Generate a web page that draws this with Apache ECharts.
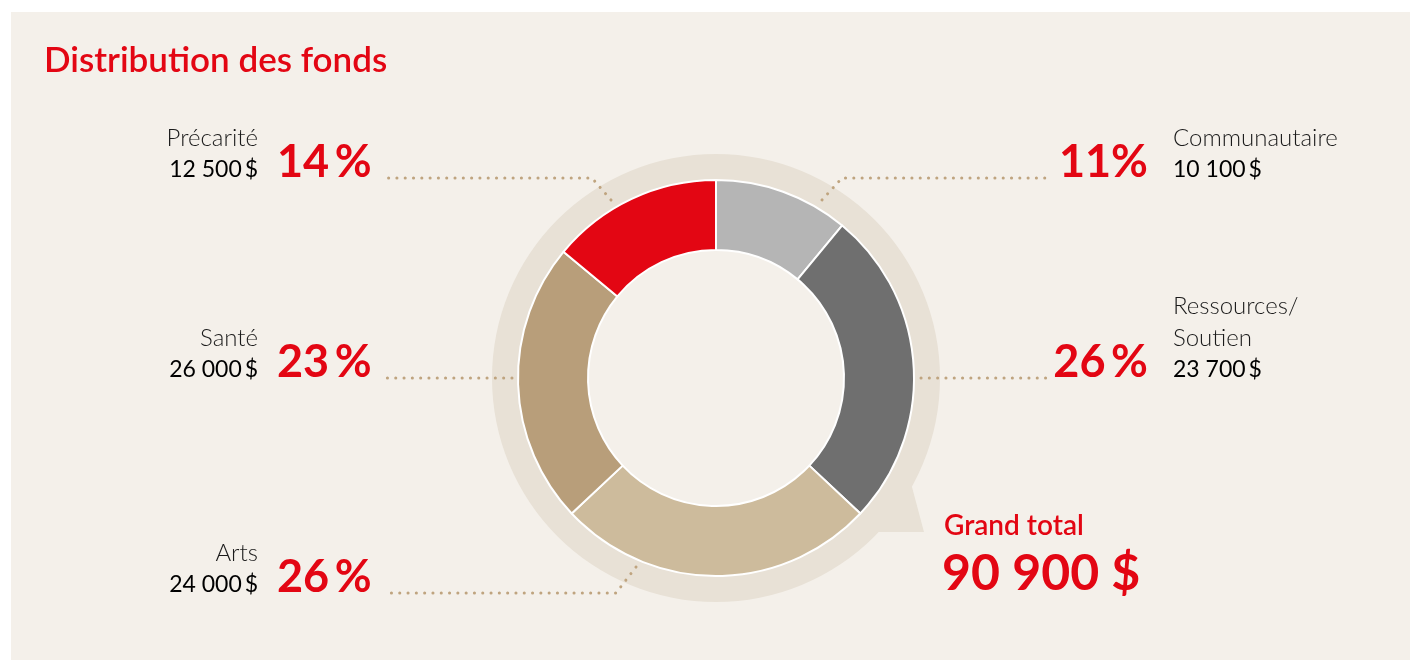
<!DOCTYPE html>
<html><head><meta charset="utf-8">
<script src="https://cdn.jsdelivr.net/npm/echarts@6/dist/echarts.min.js"></script>
<style>html,body{margin:0;padding:0;background:#fff}#c{width:1410px;height:660px}</style>
</head><body><div id="c"></div>
<script>
// ---- data ----
const chartTitle = 'Distribution des fonds';
const categories = ['Communautaire', 'Ressources/\nSoutien', 'Arts', 'Santé', 'Précarité'];
const percents = [11, 26, 26, 23, 14];
const amounts = ['10 100 $', '23 700 $', '24 000 $', '26 000 $', '12 500 $'];
const totalLabel = 'Grand total';
const totalValue = '90 900 $';

// ---- styles / layout ----
const COLORS = ['#b5b5b5', '#6f6f6f', '#cdbb9c', '#b89e7a', '#e30613'];
const RED = '#e30613';
const FONT = 'Lato, "Noto Sans", sans-serif';
const CX = 716, CY = 378;
const LAYOUT = [
  { side: 'R', py: 162, ty: 186, line: [[822, 200], [842, 178], [1046, 178]] },
  { side: 'R', py: 362, ty: 386, line: [[921, 378], [983, 378], [1046, 378]] },
  { side: 'L', py: 577, ty: 601, line: [[636, 567], [616, 593], [384, 593]] },
  { side: 'L', py: 362, ty: 386, line: [[512, 378], [450, 378], [386, 378]] },
  { side: 'L', py: 162, ty: 186, line: [[611, 200], [592, 178], [386, 178]] }
];
const PX = { L: 277, R: 1148 };
const TX = { L: 258, R: 1173 };
const pctText = v => v + (v === 11 ? '' : '\u2009') + '%';
const narrow = s => s.replace(/ \$/, '\u2009$');

const pieData = categories.map((c, i) => ({ name: c, value: percents[i], itemStyle: { color: COLORS[i] } }));

const chart = echarts.init(document.getElementById('c'), null, { renderer: 'canvas' });
chart.setOption({
  animation: false,
  title: {
    text: chartTitle, left: 39, top: 38, padding: 5,
    textStyle: { color: RED, fontSize: 35, fontWeight: 600, fontFamily: FONT }
  },
  graphic: [
    { type: 'rect', z: -10, shape: { x: 11, y: 12, width: 1399, height: 648 }, style: { fill: '#f4f0ea' } },
    { type: 'ring', z: -9, shape: { cx: CX, cy: CY, r: 224, r0: 190 }, style: { fill: '#e8e1d6' } },
    { type: 'polygon', z: -9, shape: { points: [[870, 440], [912, 487], [924, 532], [878, 532], [850, 500]] }, style: { fill: '#e8e1d6' } },
    { type: 'text', z: 10, style: { text: totalLabel, x: 944, y: 526, verticalAlign: 'middle', fill: RED, font: '600 28px ' + FONT } },
    { type: 'text', z: 10, style: { text: totalValue, x: 942, y: 574, verticalAlign: 'middle', fill: RED, font: 'bold 50px ' + FONT } }
  ],
  series: [
    {
      type: 'pie', center: [CX, CY], radius: [128, 198], startAngle: 90, clockwise: true,
      silent: true, z: 3,
      itemStyle: { borderColor: '#ffffff', borderWidth: 2 },
      data: pieData,
      label: {
        show: true, position: 'outside',
        formatter: p => pctText(p.value),
        color: RED, fontSize: 45, fontWeight: 'bold', fontFamily: FONT
      },
      labelLine: {
        show: true, length: 10, length2: 10,
        lineStyle: { color: '#bfa47f', width: 3, type: [0.1, 8.2], cap: 'round' }
      },
      labelLayout: params => {
        const L = LAYOUT[params.dataIndex];
        return { x: PX[L.side], y: L.py, align: L.side === 'R' ? 'right' : 'left', verticalAlign: 'middle', labelLinePoints: L.line };
      }
    },
    {
      type: 'pie', center: [CX, CY], radius: [128, 198], startAngle: 90, clockwise: true,
      silent: true, z: 4,
      itemStyle: { color: 'rgba(0,0,0,0)', borderWidth: 0 },
      data: categories.map((c, i) => ({ name: c, value: percents[i] })),
      label: {
        show: true, position: 'outside',
        formatter: p => p.name.split('\n').map(s => '{n|' + s + '}').join('\n') + '\n{a|' + narrow(amounts[p.dataIndex]) + '}',
        rich: {
          n: { fontSize: 24, fontWeight: 300, color: '#1a1a1a', lineHeight: 32, fontFamily: FONT },
          a: { fontSize: 23, fontWeight: 400, color: '#000000', lineHeight: 32, fontFamily: FONT }
        }
      },
      labelLine: { show: false },
      labelLayout: params => {
        const L = LAYOUT[params.dataIndex];
        return { x: TX[L.side], y: L.ty, align: L.side === 'R' ? 'left' : 'right', verticalAlign: 'bottom' };
      }
    }
  ]
});
</script></body></html>
